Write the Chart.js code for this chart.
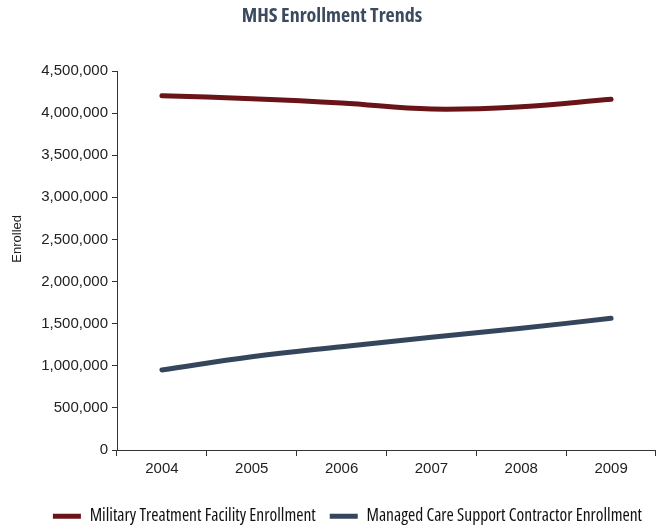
<!DOCTYPE html>
<html>
<head>
<meta charset="utf-8">
<script src="https://cdn.jsdelivr.net/npm/chart.js@4.4.1/dist/chart.umd.min.js"></script>
<style>
html,body{margin:0;padding:0;background:#fff;}
#wrap{width:656px;height:527px;position:relative;}
</style>
</head>
<body>
<div id="wrap"><canvas id="c"></canvas></div>
<script>
const categories = ['2004','2005','2006','2007','2008','2009'];
const mtfEnrollment = [4207000, 4171000, 4120000, 4049000, 4076000, 4164000];
const mcscEnrollment = [950000, 1108000, 1227000, 1338000, 1445000, 1564000];
const yTickMax = 4500000;
const yTickStep = 500000;

const cond = "'Open Sans',sans-serif";
const sans = "'Liberation Sans',Arial,sans-serif";

new Chart(document.getElementById('c'), {
  type: 'line',
  data: {
    labels: categories,
    datasets: [
      {label:'Military Treatment Facility Enrollment', data: mtfEnrollment,
       borderColor:'#6a1418', backgroundColor:'#6a1418', borderWidth:5,
       pointRadius:0, tension:0.4, borderCapStyle:'round', fill:false},
      {label:'Managed Care Support Contractor Enrollment', data: mcscEnrollment,
       borderColor:'#35465c', backgroundColor:'#35465c', borderWidth:5,
       pointRadius:0, tension:0.4, borderCapStyle:'round', fill:false}
    ]
  },
  options: {
    responsive:true, maintainAspectRatio:false, animation:false,
    layout:{padding:{left:8,right:0,top:2,bottom:-8}},
    plugins:{
      title:{display:true, text:'MHS Enrollment Trends', color:'#3b4a5e',
        font:{family:cond, size:20, weight:'bold condensed', lineHeight:1.2}, padding:{top:2,bottom:43}},
      legend:{position:'bottom', align:'end',
        labels:{boxWidth:28, boxHeight:5, color:'#111', padding:14,
          font:{family:cond, size:17.5, weight:'condensed'},
          generateLabels(chart){
            const items = Chart.defaults.plugins.legend.labels.generateLabels(chart);
            items.forEach(i=>{ i.lineWidth = 0; });
            return items;
          }}},
      tooltip:{enabled:false}
    },
    scales:{
      x:{offset:true,
        grid:{display:true, drawOnChartArea:false, offset:true, tickLength:6, color:'#333'},
        border:{color:'#333', width:1},
        ticks:{color:'#222', font:{family:sans, size:15}, padding:4},
        afterFit(s){ s.height = 43.5; }
      },
      y:{min:0, max:yTickMax,
        grid:{display:true, drawOnChartArea:false, tickLength:5, color:'#333'},
        border:{color:'#333', width:1},
        ticks:{stepSize:yTickStep, color:'#222', font:{family:sans, size:15}, padding:4,
          callback:v=>v.toLocaleString('en-US')},
        title:{display:true, text:'            Enrolled', color:'#222', font:{family:sans, size:13}, padding:{top:2,bottom:0}},
        afterFit(s){ s.width = 109; }
      }
    }
  }
});
</script>
</body>
</html>
